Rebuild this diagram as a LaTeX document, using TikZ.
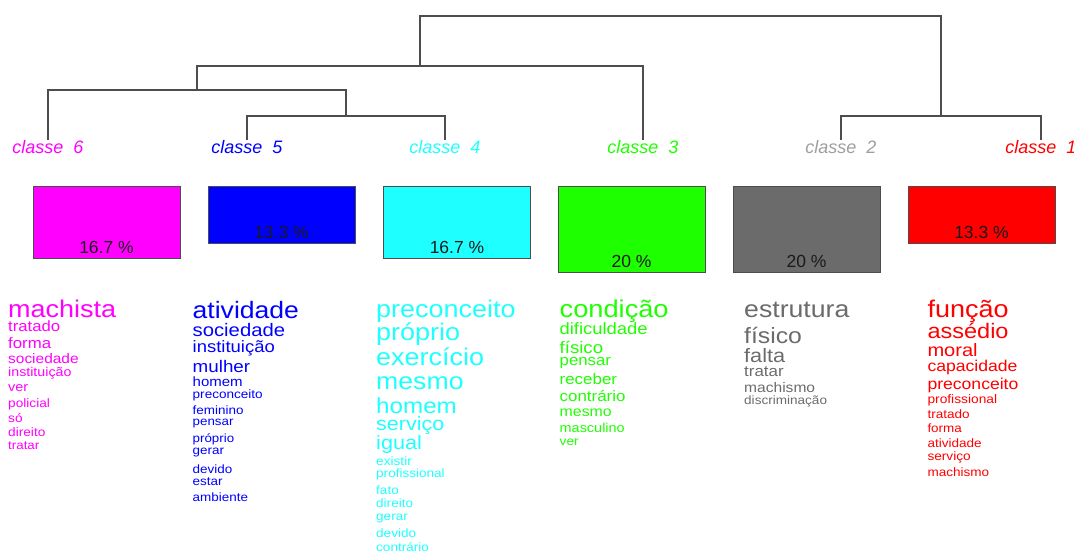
\documentclass[tikz,border=0pt]{standalone}
\usepackage{fontspec}
\setmainfont{Liberation Sans}
\newfontfamily\wordfont[FakeStretch=1.12]{Liberation Sans}
\usepackage{xcolor}
\usepackage{tikz}
\usetikzlibrary{positioning,calc}
\definecolor{magenta}{HTML}{FF00FF}
\definecolor{blue}{HTML}{0000FF}
\definecolor{cyan}{HTML}{1EFFFF}
\definecolor{green}{HTML}{1EFF00}
\definecolor{grey}{HTML}{6B6B6B}
\definecolor{softgrey}{HTML}{9E9E9E}
\definecolor{red}{HTML}{FF0000}
\definecolor{line}{HTML}{4D4D4D}
\definecolor{ink}{HTML}{1A1A1A}

\begin{document}
\begin{tikzpicture}[
  x=1pt, y=-1pt,
  classe/.style={anchor=base, inner sep=0pt, font=\fontsize{18}{18}\selectfont\itshape},
  tree/.style={draw=line, line width=1.3pt},
  bar/.style={draw=line, line width=0.8pt, anchor=north, minimum width=147pt, inner sep=0pt},
  pct/.style={anchor=base, inner sep=0pt, text=ink, font=\fontsize{17.5}{17.5}\selectfont},
  word/.style={anchor=base west, inner sep=0pt}
]
\useasboundingbox (0,0) rectangle (1074,554);

% class labels
\node[classe, text=magenta] (c6) at (48,153) {classe~~6};
\node[classe, text=blue] (c5) at (247,153) {classe~~5};
\node[classe, text=cyan] (c4) at (445,153) {classe~~4};
\node[classe, text=green] (c3) at (643,153) {classe~~3};
\node[classe, text=softgrey] (c2) at (841,153) {classe~~2};
\node[classe, text=red] (c1) at (1041,153) {classe~~1};

% dendrogram
\coordinate (m54) at (346,116);
\coordinate (m654) at (197,90);
\coordinate (m6543) at (420,66);
\coordinate (m21) at (941,116);
\coordinate (root) at (680,16);
\draw[tree] (c5.north) |- (m54) -| (c4.north);
\draw[tree] (c6.north) |- (m654) -| (m54);
\draw[tree] (m654) |- (m6543) -| (c3.north);
\draw[tree] (c2.north) |- (m21) -| (c1.north);
\draw[tree] (m6543) |- (root) -| (m21);

% bars
\node[bar, fill=magenta, minimum height=71.8pt] (b6) at (106.5,186) {};
\node[bar, fill=blue, minimum height=57.2pt] (b5) at (281.5,186) {};
\node[bar, fill=cyan, minimum height=71.8pt] (b4) at (457,186) {};
\node[bar, fill=green, minimum height=86pt] (b3) at (631.5,186) {};
\node[bar, fill=grey, minimum height=86pt] (b2) at (806.5,186) {};
\node[bar, fill=red, minimum height=57.2pt] (b1) at (981.5,186) {};
\node[pct] (p6) at ([yshift=5.5pt]b6.south) {16.7 \%};
\node[pct] (p5) at ([yshift=5.5pt]b5.south) {13.3 \%};
\node[pct] (p4) at ([yshift=5.5pt]b4.south) {16.7 \%};
\node[pct] (p3) at ([yshift=5.5pt]b3.south) {20 \%};
\node[pct] (p2) at ([yshift=5.5pt]b2.south) {20 \%};
\node[pct] (p1) at ([yshift=5.5pt]b1.south) {13.3 \%};

% words
\foreach \sz/\yb/\wrd [count=\i] in {24.1/317/machista, 14.9/331/tratado, 15/348/forma,
    13.8/363/sociedade, 12.7/376/instituição, 12.9/391/ver, 12.2/407/policial,
    12.2/422/só, 12.2/436/direito, 11.9/449/tratar}
  \node[word, text=magenta, font=\wordfont\fontsize{\sz}{\sz}\selectfont] (w6-\i) at (8,\yb) {\wrd};
\foreach \sz/\yb/\wrd [count=\i] in {23.7/318/atividade, 18.1/336/sociedade, 16.5/352/instituição,
    16.8/372/mulher, 13.4/386/homem, 12.1/398/preconceito, 12/414/feminino, 11.9/425/pensar,
    11.9/442/próprio, 12/454/gerar, 12/473/devido, 12/485/estar, 12/501/ambiente}
  \node[word, text=blue, font=\wordfont\fontsize{\sz}{\sz}\selectfont] (w5-\i) at (192.5,\yb) {\wrd};
\foreach \sz/\yb/\wrd [count=\i] in {24.1/317/preconceito, 24.1/340/próprio, 24.1/365/exercício,
    23.8/389/mesmo, 21.6/413/homem, 19.2/430/serviço, 19.3/449/igual, 12.2/465/existir,
    12.1/477/profissional, 12.1/494/fato, 12.1/507/direito, 12.1/520/gerar, 12.1/537/devido,
    12.1/551/contrário}
  \node[word, text=cyan, font=\wordfont\fontsize{\sz}{\sz}\selectfont] (w4-\i) at (376,\yb) {\wrd};
\foreach \sz/\yb/\wrd [count=\i] in {24.3/317/condição, 16.4/334/dificuldade, 16.6/353/físico,
    15/365/pensar, 15.1/384/receber, 15.1/401/contrário, 14.2/416/mesmo, 12.9/432/masculino,
    12.2/445/ver}
  \node[word, text=green, font=\wordfont\fontsize{\sz}{\sz}\selectfont] (w3-\i) at (559.5,\yb) {\wrd};
\foreach \sz/\yb/\wrd [count=\i] in {23.8/317/estrutura, 22.1/343/físico, 19.4/362/falta,
    15.1/376/tratar, 13.9/392/machismo, 12.1/404/discriminação}
  \node[word, text=grey, font=\wordfont\fontsize{\sz}{\sz}\selectfont] (w2-\i) at (744,\yb) {\wrd};
\foreach \sz/\yb/\wrd [count=\i] in {24.1/317/função, 21/338/assédio, 17.9/356/moral,
    15.7/371/capacidade, 15.7/389/preconceito, 12.3/403/profissional, 12.1/418/tratado,
    12/432/forma, 12.1/447/atividade, 12.2/460/serviço, 12.1/476/machismo}
  \node[word, text=red, font=\wordfont\fontsize{\sz}{\sz}\selectfont] (w1-\i) at (927.3,\yb) {\wrd};
\end{tikzpicture}
\end{document}
